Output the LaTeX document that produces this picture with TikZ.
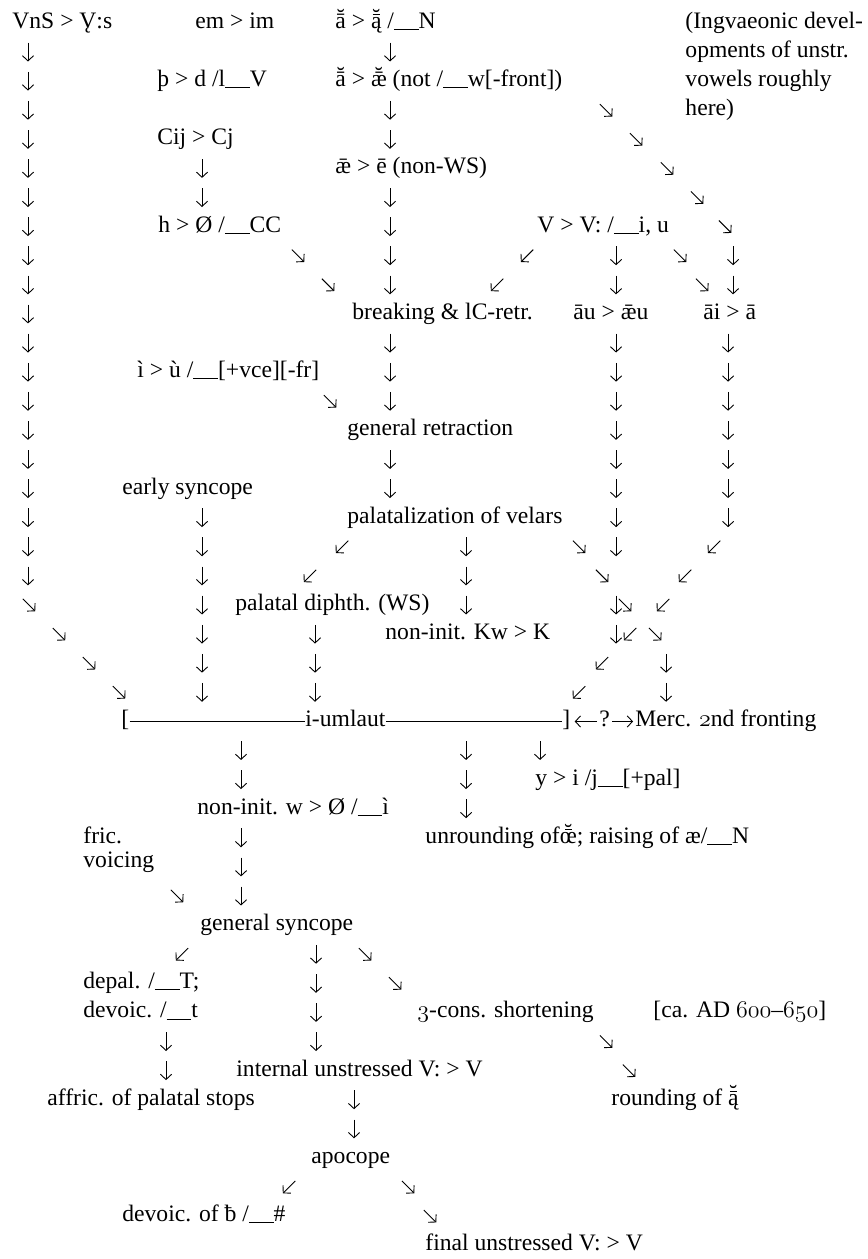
\documentclass[tikz,border=0pt]{standalone}
\usepackage{fontspec}
\setmainfont{Liberation Serif}
\usetikzlibrary{arrows.meta}

\newcommand\envbar{\rule[-0.07em]{1.05em}{0.045em}}
\newcommand\brevebar[1]{\ooalign{#1\cr\hidewidth\raisebox{0.3ex}{˘}\hidewidth\cr}}
\newcommand\barbreve[1]{\ooalign{#1\cr\hidewidth\raisebox{0.56em}{\rule{0.3em}{0.045em}}\hidewidth\cr\hidewidth\raisebox{0.3ex}{˘}\hidewidth\cr}}
\newcommand\ogon[1]{\ooalign{#1\cr\hidewidth˛\hidewidth\cr}}
\newcommand\ostyle[1]{{\usefont{OML}{cmm}{m}{it}#1}}

\tikzset{
  txt/.style={anchor=west, inner sep=0pt, text height=8pt, text depth=2.6pt},
  arr/.style={-{Straight Barb[length=2.6pt,width=5.6pt]}, line width=0.45pt},
  dnarr/.pic={\draw[arr] (0pt,4.7pt) -- (0pt,-4.7pt);},
  searr/.pic={\draw[arr] (-3.1pt,3.1pt) -- (3.1pt,-3.1pt);},
  swarr/.pic={\draw[arr] (3.1pt,3.1pt) -- (-3.1pt,-3.1pt);}
}

\begin{document}
\begin{tikzpicture}[x=0.5pt, y=-14.55pt, font=\fontsize{11.8pt}{14.55pt}\selectfont]
  \useasboundingbox (0,-0.79) rectangle (867,42.47);

  % sound changes, one row per line
  \node[txt] (vns) at (12,0) {VnS > \ogon{V}:s};
  \node[txt] (emim) at (195,0) {em > im};
  \node[txt] (anas) at (335,0) {\brevebar{ā} > \barbreve{ą} /\envbar N};
  \node[txt] (ingva) at (685,0) {(Ingvaeonic devel-};
  \node[txt] (ingvb) at (685,1) {opments of unstr.};
  \node[txt] (ingvc) at (685,2) {vowels roughly};
  \node[txt] (ingvd) at (685,3) {here)};
  \node[txt] (thorn) at (157,2) {þ > d /l\envbar V};
  \node[txt] (afront) at (335,2) {\brevebar{ā} > \brevebar{ǣ} (not /\envbar w[-front])};
  \node[txt] (cij) at (157,4) {Cij > Cj};
  \node[txt] (aee) at (335,5) {ǣ > ē (non-WS)};
  \node[txt] (hcc) at (158,7) {h > Ø /\envbar CC};
  \node[txt] (vlen) at (537,7) {V > V: /\envbar i, u};
  \node[txt] (brk) at (352,10) {breaking \& lC-retr.};
  \node[txt] (au) at (573,10) {āu > ǣu};
  \node[txt] (ai) at (703,10) {āi > ā};
  \node[txt] (iu) at (137,12) {ì > ù /\envbar[+vce][-fr]};
  \node[txt] (gret) at (347,14) {general retraction};
  \node[txt] (esync) at (122,16) {early syncope};
  \node[txt] (pal) at (347,17) {palatalization of velars};
  \node[txt] (pdiph) at (235,20) {palatal diphth. (WS)};
  \node[txt] (kw) at (385,21) {non-init. Kw > K};

  % i-umlaut bar
  \node[txt] (lb) at (121,24) {[};
  \node[txt] (uml) at (305,24) {i-umlaut};
  \node[txt] (rb) at (562,24) {]};
  \node[txt] (qm) at (599,24) {?};
  \node[txt] (merc) at (635,24) {Merc. \ostyle{2}nd fronting};
  \draw[line width=0.45pt] (lb.east) -- (uml.west) (uml.east) -- (rb.west);
  \draw[arr, shorten <=1pt, shorten >=2pt] (qm.west) -- (rb.east);
  \draw[arr, shorten <=1pt, shorten >=1pt] (qm.east) -- (merc.west);

  \node[txt] (yi) at (535,26) {y > i /j\envbar[+pal]};
  \node[txt] (nonw) at (197,27) {non-init. w > Ø /\envbar ì};
  \node[txt] (unr) at (425,28) {unrounding of\barbreve{œ}; raising of æ/\envbar N};
  \node[txt] (fric) at (83,28.02) {fric.};
  \node[txt] (voic) at (83,28.82) {voicing};
  \node[txt] (gsync) at (200,31) {general syncope};
  \node[txt] (depal) at (83,33) {depal. /\envbar T;};
  \node[txt] (devt) at (83,34) {devoic. /\envbar t};
  \node[txt] (cons) at (417,34) {\ostyle{3}-cons. shortening};
  \node[txt] (date) at (653,34) {[ca. AD \ostyle{600}–\ostyle{650}]};
  \node[txt] (intv) at (236,36) {internal unstressed V: > V};
  \node[txt] (affr) at (47,37) {affric. of palatal stops};
  \node[txt] (rnd) at (611,37) {rounding of \barbreve{ą}};
  \node[txt] (apoc) at (311,39) {apocope};
  \node[txt] (devb) at (122,41) {devoic. of ƀ /\envbar\#};
  \node[txt] (fin) at (425,42) {final unstressed V: > V};

  % down arrows
  \foreach \k in {1,...,19} \pic at (28,\k) {dnarr};
  \foreach \k in {1,3,4,6,7,8,9,11,12,13,15,16} \pic at (390,\k) {dnarr};
  \foreach \k in {5,6,17,18,19,20,21,22,23} \pic at (202,\k) {dnarr};
  \foreach \k in {8,9,11,12,13,14,15,16,17,18,20,21} \pic at (616,\k) {dnarr};
  \foreach \k in {8,9} \pic at (733,\k) {dnarr};
  \foreach \k in {11,...,17} \pic at (728,\k) {dnarr};
  \foreach \k in {18,19,20} \pic at (466,\k) {dnarr};
  \foreach \k in {21,22,23} \pic at (315,\k) {dnarr};
  \foreach \k in {22,23} \pic at (666,\k) {dnarr};
  \foreach \k in {25,26,28,29,30} \pic at (241,\k) {dnarr};
  \foreach \k in {25,26,27} \pic at (466,\k) {dnarr};
  \pic at (540,25) {dnarr};
  \foreach \k in {32,...,35} \pic at (316,\k) {dnarr};
  \foreach \k in {35,36} \pic at (166,\k) {dnarr};
  \foreach \k in {37,38} \pic at (354,\k) {dnarr};

  % diagonal arrows
  \foreach \x/\k in {29/20,59/21,89/22,119/23,298/8,328/9,330/13,
      606/3,636/4,667/5,697/6,725/7,680/8,702/9,579/18,602/19,625/20,655/21,
      177/30,365/32,395/33,606/35,629/36,408/40,430/41}
    \pic at (\x,\k) {searr};
  \foreach \x/\k in {527/8,497/9,342/18,310/19,714/18,685/19,663/20,630/21,
      602/22,579/23,182/32,289/40}
    \pic at (\x,\k) {swarr};
\end{tikzpicture}
\end{document}
